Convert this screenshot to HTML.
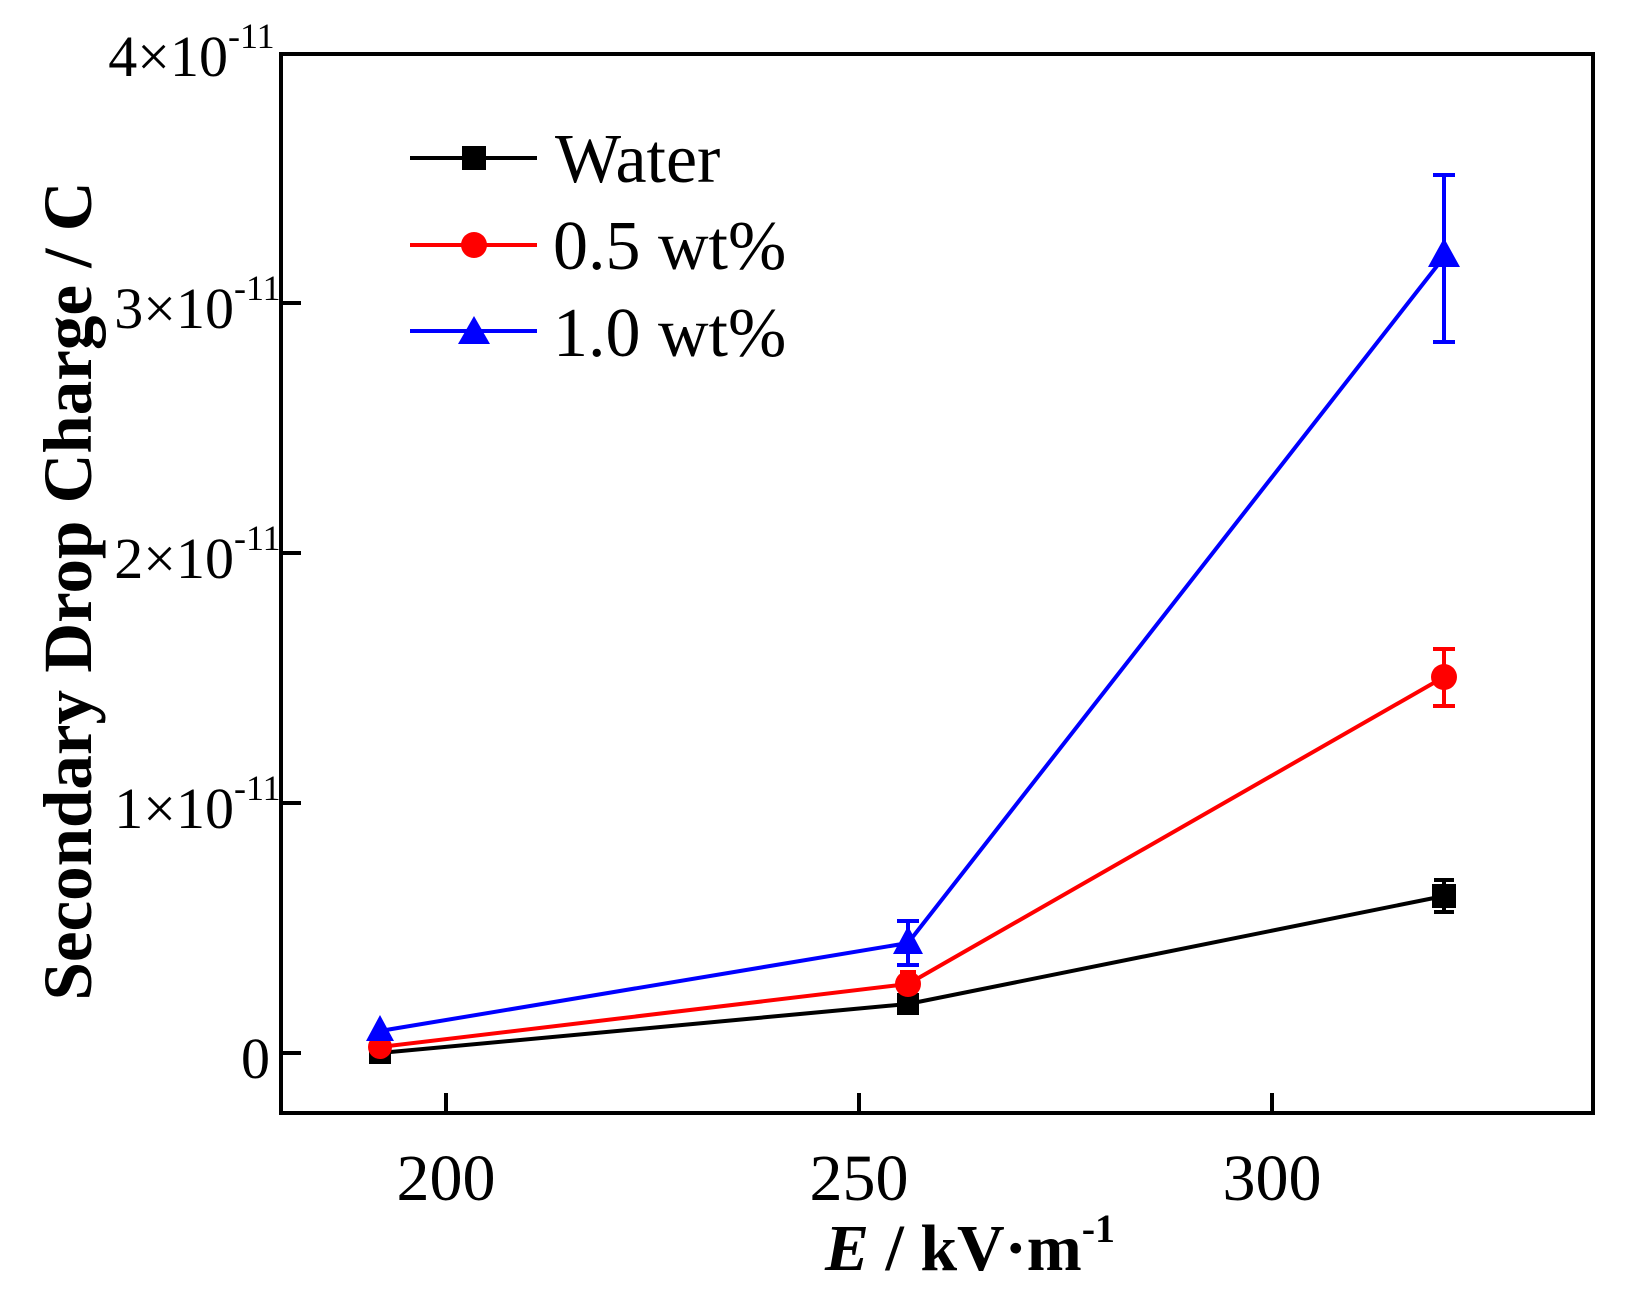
<!DOCTYPE html>
<html><head><style>body{margin:0;background:#fff}</style></head><body>
<svg width="1626" height="1290" viewBox="0 0 1626 1290" xmlns="http://www.w3.org/2000/svg" font-family="Liberation Serif, serif">
<rect width="1626" height="1290" fill="#fff"/>
<rect x="281" y="54" width="1312" height="1059" fill="none" stroke="#000" stroke-width="4"/>
<g stroke="#000" stroke-width="4">
<line x1="281" y1="1053" x2="301" y2="1053"/><line x1="281" y1="803" x2="301" y2="803"/>
<line x1="281" y1="553" x2="301" y2="553"/><line x1="281" y1="303" x2="301" y2="303"/>
<line x1="446" y1="1113" x2="446" y2="1093"/><line x1="859" y1="1113" x2="859" y2="1093"/><line x1="1272" y1="1113" x2="1272" y2="1093"/>
</g>
<g font-size="58" text-anchor="end">
<text x="270" y="1078">0</text>
<text x="234" y="828">1×10</text>
<text x="234" y="578">2×10</text>
<text x="234" y="328">3×10</text>
<text x="228" y="76">4×10</text>
</g>
<g font-size="36">
<text x="234" y="800">-11</text><text x="234" y="550">-11</text><text x="234" y="300">-11</text><text x="228" y="48">-11</text>
</g>
<g font-size="66" text-anchor="middle">
<text x="446" y="1200">200</text><text x="859" y="1200">250</text><text x="1272" y="1200">300</text>
</g>
<text x="970" y="1270" font-size="66" font-weight="bold" text-anchor="middle"><tspan font-style="italic">E</tspan> / kV·m<tspan font-size="40" dy="-28">-1</tspan></text>
<text transform="translate(91,591) rotate(-90)" font-size="69" font-weight="bold" text-anchor="middle">Secondary Drop Charge / C</text>
<g stroke-width="4" fill="none">
<polyline stroke="#000" points="380,1053 908,1004 1444,896"/>
<polyline stroke="#f00" points="380,1047 908,984 1444,677"/>
<polyline stroke="#00f" points="380,1031 908,943 1444,257"/>
</g>
<g stroke-width="4">
<path stroke="#000" d="M1444,880V912M1434,880h20M1434,912h20M908,996V1012M900,1012h16"/>
<path stroke="#f00" d="M1444,649V706M1433,649h22M1433,706h22M908,972V996M900,972h16"/>
<path stroke="#00f" d="M1444,175V342M1433,175h22M1433,342h22M908,921V965M897,921h22M897,965h22M380,1020V1042"/>
</g>
<rect x="369" y="1042" width="22" height="22" fill="#000"/>
<rect x="897" y="993" width="22" height="22" fill="#000"/>
<rect x="1432" y="884" width="24" height="24" fill="#000"/>
<circle cx="380" cy="1047" r="12" fill="#f00"/><circle cx="908" cy="984" r="13" fill="#f00"/><circle cx="1444" cy="677" r="13" fill="#f00"/>
<path d="M380,1015 L394,1041 L366,1041Z M908,926 L923,954 L893,954Z M1444,238 L1460,267 L1428,267Z" fill="#00f"/>
<g stroke-width="4">
<line x1="410" y1="158" x2="537" y2="158" stroke="#000"/>
<line x1="410" y1="245" x2="537" y2="245" stroke="#f00"/>
<line x1="410" y1="331" x2="537" y2="331" stroke="#00f"/>
</g>
<rect x="462" y="146" width="24" height="24" fill="#000"/>
<circle cx="474" cy="245" r="13" fill="#f00"/>
<path d="M474,316 L490,344 L458,344Z" fill="#00f"/>
<g font-size="70">
<text x="555" y="182">Water</text>
<text x="553" y="269">0.5 wt%</text>
<text x="553" y="356">1.0 wt%</text>
</g>
</svg>
</body></html>
